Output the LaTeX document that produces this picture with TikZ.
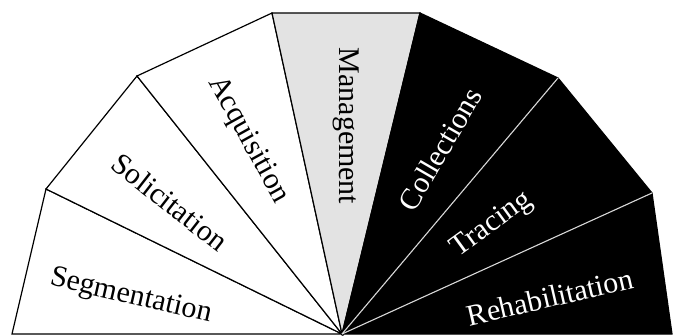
\documentclass[tikz,border=0pt]{standalone}
\usepackage{fontspec}
\setmainfont{Liberation Serif}
\begin{document}
\begin{tikzpicture}[x=1pt,y=1pt,
  seg/.style={line width=1.2pt, line join=miter},
  whiteseg/.style={seg, draw=black, fill=white},
  greyseg/.style={seg, draw=black, fill=black!11},
  darkseg/.style={seg, draw=black, fill=black},
  divider/.style={line width=1.1pt, draw=white!85!black},
  lbl/.style={font=\fontsize{30}{31}\selectfont, inner sep=0pt, anchor=center},
  lightlbl/.style={lbl, text=black},
  darklbl/.style={lbl, text=white}]
\useasboundingbox (0,0) rectangle (675,335);

% hub of the fan and the outer corners of its seven blades
\coordinate (O)  at (342,1);
\coordinate (P0) at (12,1);
\coordinate (P1) at (46,146);
\coordinate (P2) at (137,259);
\coordinate (P3) at (272,322);
\coordinate (P4) at (420,322);
\coordinate (P5) at (558,257);
\coordinate (P6) at (652,142);
\coordinate (P7) at (672,1);

% blades
\draw[whiteseg] (O) -- (P0) -- (P1) -- cycle;
\draw[whiteseg] (O) -- (P1) -- (P2) -- cycle;
\draw[whiteseg] (O) -- (P2) -- (P3) -- cycle;
\draw[greyseg]  (O) -- (P3) -- (P4) -- cycle;
\draw[darkseg]  (O) -- (P4) -- (P5) -- (P6) -- (P7) -- cycle;
\draw[divider]  (O) -- (P5);
\draw[divider]  (O) -- (P6);

% labels
\node[lightlbl, rotate=-13] (seg) at (131,38)  {Segmentation};
\node[lightlbl, rotate=-38] (sol) at (170,133) {Solicitation};
\node[lightlbl, rotate=-61] (acq) at (248,195) {Acquisition};
\node[lightlbl, rotate=-90] (man) at (346,209) {Management};
\node[darklbl,  rotate=60]  (col) at (440,186) {Collections};
\node[darklbl,  rotate=36]  (tra) at (492,110) {Tracing};
\node[darklbl,  rotate=13]  (reh) at (550,38)  {Rehabilitation};
\end{tikzpicture}
\end{document}
